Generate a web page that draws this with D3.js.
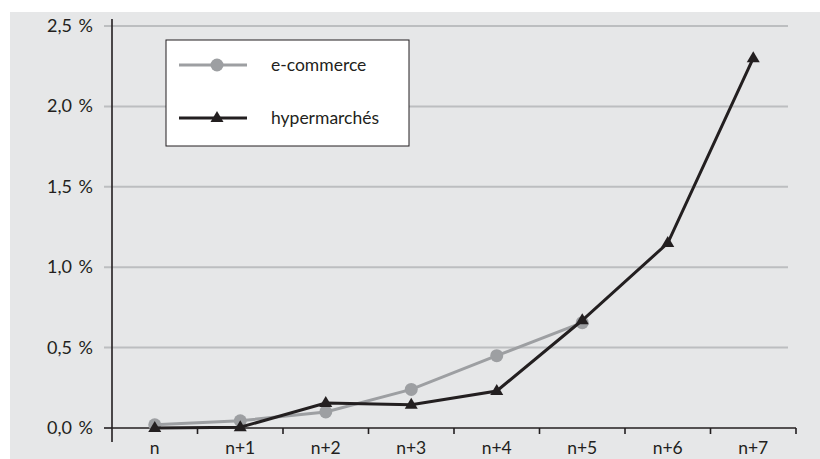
<!DOCTYPE html>
<html><head><meta charset="utf-8">
<script src="https://cdn.jsdelivr.net/npm/d3@7"></script>
<style>body{margin:0;background:#fff}svg{display:block}text{font-family:Lato,"Open Sans",sans-serif;fill:#231f20}</style>
</head><body><svg id="c" width="820" height="459"></svg>
<script>
const categories = ["n","n+1","n+2","n+3","n+4","n+5","n+6","n+7"];
const ecommerce = [0.02,0.045,0.10,0.24,0.45,0.655,null,null];
const hypermarches = [0.0,0.005,0.155,0.145,0.23,0.67,1.15,2.30];
const yTicks = [0,0.5,1.0,1.5,2.0,2.5];
const seriesNames = ["e-commerce","hypermarchés"];

const svg = d3.select("#c");
svg.append("rect").attr("x",10).attr("y",12).attr("width",810).attr("height",447).attr("fill","#e6e7e8");

const x = d3.scaleBand().domain(categories).range([112,796]);
const y = d3.scaleLinear().domain([0,2.5]).range([428,26]);
const fmt = v => d3.format(".1f")(v).replace(".",",") + "\u00a0%";

// gridlines
svg.append("g").selectAll("line").data(yTicks.filter(d=>d>0)).join("line")
  .attr("x1",104).attr("x2",788).attr("y1",d=>y(d)).attr("y2",d=>y(d))
  .attr("stroke","#bcbec0").attr("stroke-width",2);

// y labels
svg.append("g").selectAll("text").data(yTicks).join("text")
  .attr("x",93).attr("y",d=>y(d)+6).attr("text-anchor","end")
  .attr("font-size",18).attr("word-spacing",2).text(fmt);

// y axis line
svg.append("line").attr("x1",112).attr("x2",112).attr("y1",19).attr("y2",442)
  .attr("stroke","#231f20").attr("stroke-width",1.6);
svg.append("line").attr("x1",104).attr("x2",112).attr("y1",y(0)).attr("y2",y(0))
  .attr("stroke","#231f20").attr("stroke-width",1.6);

// x axis
const xAxis = d3.axisBottom(x).tickSize(0).tickFormat("");
const gx = svg.append("g").attr("transform",`translate(0,${y(0)})`).call(xAxis);
gx.select(".domain").attr("stroke","#231f20").attr("stroke-width",1.6).attr("d",`M112,0H796`);
const bounds = categories.map(c=>x(c)+x.bandwidth());
svg.append("g").selectAll("line").data(bounds).join("line")
  .attr("x1",d=>d).attr("x2",d=>d).attr("y1",y(0)).attr("y2",y(0)+6)
  .attr("stroke","#231f20").attr("stroke-width",1.6);
svg.append("g").selectAll("text").data(categories).join("text")
  .attr("x",d=>x(d)+x.bandwidth()/2).attr("y",454).attr("text-anchor","middle")
  .attr("font-size",17.5).text(d=>d);

const cx = d => x(d)+x.bandwidth()/2;
const line = d3.line().defined(d=>d.v!=null).x(d=>cx(d.c)).y(d=>y(d.v));
const ecData = categories.map((c,i)=>({c,v:ecommerce[i]}));
const hyData = categories.map((c,i)=>({c,v:hypermarches[i]}));

svg.append("path").datum(ecData).attr("d",line).attr("fill","none").attr("stroke","#9d9fa2").attr("stroke-width",3);
svg.append("g").selectAll("circle").data(ecData.filter(d=>d.v!=null)).join("circle")
  .attr("cx",d=>cx(d.c)).attr("cy",d=>y(d.v)).attr("r",6.5).attr("fill","#9d9fa2");

svg.append("path").datum(hyData).attr("d",line).attr("fill","none").attr("stroke","#231f20").attr("stroke-width",3);
const tri = "M0,-7L6.5,4L-6.5,4Z";
svg.append("g").selectAll("path").data(hyData).join("path")
  .attr("d",tri).attr("transform",d=>`translate(${cx(d.c)},${y(d.v)})`).attr("fill","#231f20");

// legend
const lg = svg.append("g");
lg.append("rect").attr("x",166).attr("y",40).attr("width",243).attr("height",106)
  .attr("fill","#fff").attr("stroke","#231f20").attr("stroke-width",1);
lg.append("line").attr("x1",179).attr("x2",247).attr("y1",65).attr("y2",65).attr("stroke","#9d9fa2").attr("stroke-width",3);
lg.append("circle").attr("cx",217).attr("cy",65).attr("r",6.5).attr("fill","#9d9fa2");
lg.append("line").attr("x1",179).attr("x2",247).attr("y1",118).attr("y2",118).attr("stroke","#231f20").attr("stroke-width",3);
lg.append("path").attr("d",tri).attr("transform","translate(217,118)").attr("fill","#231f20");
lg.append("text").attr("x",271).attr("y",71).attr("font-size",17.5).text(seriesNames[0]);
lg.append("text").attr("x",271).attr("y",124).attr("font-size",17.5).text(seriesNames[1]);
</script></body></html>
